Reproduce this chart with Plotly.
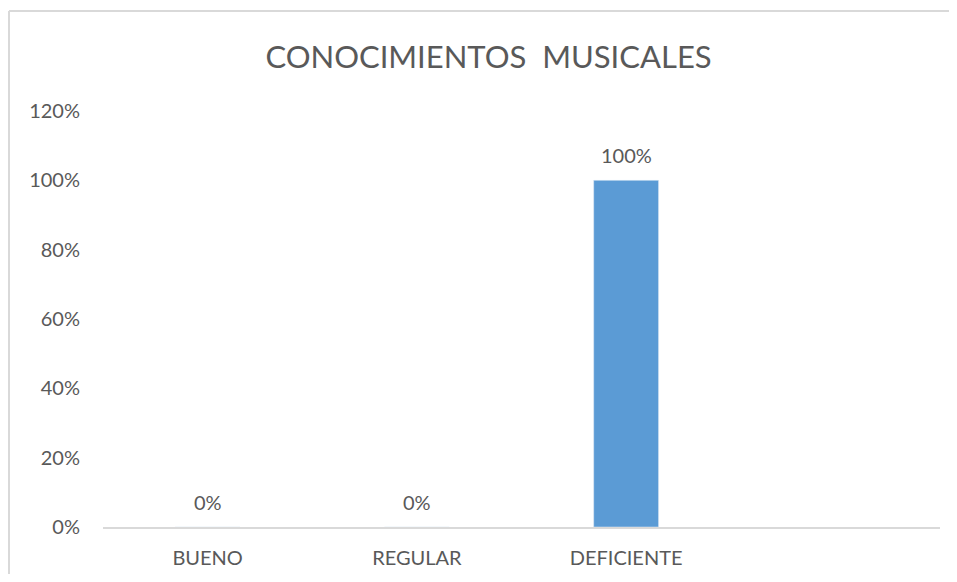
import plotly.graph_objects as go

categories = ["BUENO", "REGULAR", "DEFICIENTE", " "]
values = [0.0, 0.0, 1.0, None]
labels = ["0%", "0%", "100%", ""]

# the page draws the figure 8px in from the top-left corner (body margin)
W, H = 941, 566
ml, mt = 95, 103
plot_right, plot_bottom = 932, 519
mr, mb = W - plot_right, H - plot_bottom

fig = go.Figure()
fig.add_trace(go.Bar(
    x=categories, y=values,
    marker=dict(color="#5b9bd5"), width=0.31, cliponaxis=False,
))
for c, v, t in zip(categories, values, labels):
    if v is None:
        continue
    fig.add_annotation(x=c, y=v, text=t, showarrow=False, yanchor="bottom",
                       yshift=11, font=dict(size=20, color="#595959"))

pw = W - ml - mr
ph = H - mt - mb
# outer chart border: only the left and top edges are visible in the picture
bx = (1 - ml) / pw
by_top = (plot_bottom - 3) / ph
by_bot = (plot_bottom - (H + 30)) / ph
bx_right = (W + 30 - ml) / pw
fig.add_shape(type="line", xref="paper", yref="paper",
              x0=bx, x1=bx, y0=by_bot, y1=by_top,
              line=dict(color="#d9d9d9", width=2))
fig.add_shape(type="line", xref="paper", yref="paper",
              x0=bx, x1=bx_right, y0=by_top, y1=by_top,
              line=dict(color="#d9d9d9", width=2))

fig.update_layout(
    width=W, height=H,
    margin=dict(l=ml, r=mr, t=mt, b=mb, autoexpand=False),
    paper_bgcolor="white", plot_bgcolor="white",
    font=dict(family="Lato, Open Sans, sans-serif", color="#595959"),
    title=dict(text="CONOCIMIENTOS  MUSICALES", x=480.5 / W, xanchor="center",
               y=1 - 49 / H, yanchor="middle",
               font=dict(size=31, color="#595959")),
    showlegend=False,
    xaxis=dict(showline=True, linecolor="#d9d9d9", linewidth=2, automargin=False,
               showgrid=False, ticks="", tickfont=dict(size=20, color="#595959"),
               ticklabelstandoff=12),
    yaxis=dict(range=[0, 1.2], dtick=0.2, tickformat=".0%", showgrid=False,
               zeroline=False, showline=False, ticks="", automargin=False,
               tickfont=dict(size=20, color="#595959"), ticklabelstandoff=22),
)

fig.write_html("out.html")
